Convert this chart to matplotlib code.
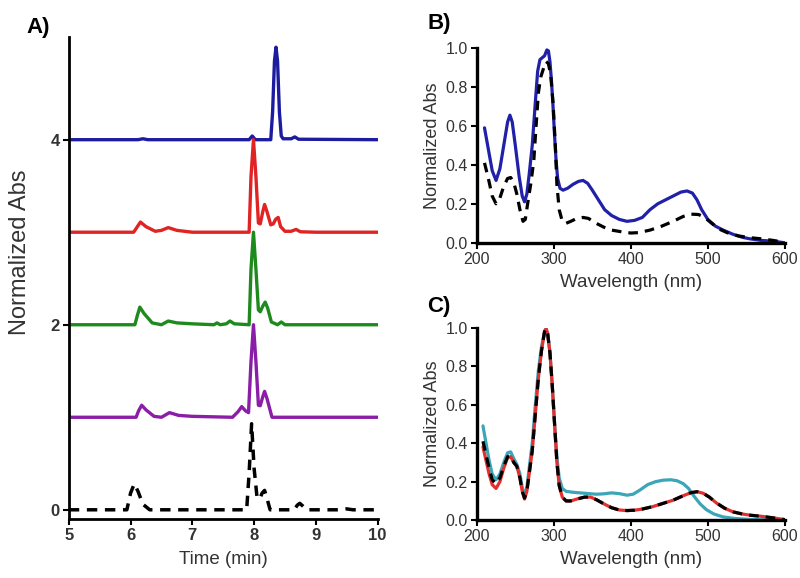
import matplotlib
matplotlib.use("Agg")
import matplotlib.pyplot as plt

plt.rcParams['font.family'] = ['Liberation Sans', 'DejaVu Sans']

# ---------------- Panel A: chromatograms (relative to baseline) ----------------
trace_offsets = [4, 3, 2, 1, 0]
trace_colors = ['#1c1ca0', '#e02424', '#1e8a1e', '#8a1ea6', 'black']

blue_t = [5.0, 6.12, 6.20, 6.28, 7.92, 7.97, 8.02, 8.10, 8.27, 8.30, 8.33, 8.355, 8.38, 8.41, 8.44, 8.47, 8.60, 8.66, 8.72, 10.0]
blue_y = [0.0, 0.0, 0.01, 0.0, 0.0, 0.04, 0.0, 0.0, 0.0, 0.3, 0.85, 1.0, 0.85, 0.3, 0.04, 0.01, 0.01, 0.03, 0.005, 0.0]

red_t = [5.0, 6.05, 6.10, 6.16, 6.25, 6.40, 6.50, 6.61, 6.75, 7.00, 7.92, 7.95, 7.99, 8.03, 8.07, 8.10, 8.14, 8.17, 8.21, 8.27, 8.31, 8.35, 8.39, 8.43, 8.50, 8.60, 8.68, 8.75, 9.00, 10.0]
red_y = [0.0, 0.0, 0.05, 0.11, 0.06, 0.01, 0.02, 0.05, 0.02, 0.0, 0.0, 0.6, 1.0, 0.6, 0.1, 0.09, 0.22, 0.30, 0.22, 0.08, 0.09, 0.14, 0.16, 0.06, 0.01, 0.01, 0.03, 0.005, 0.0, 0.0]

green_t = [5.0, 6.07, 6.11, 6.15, 6.22, 6.35, 6.50, 6.61, 6.75, 7.00, 7.35, 7.40, 7.45, 7.55, 7.61, 7.68, 7.92, 7.95, 7.99, 8.03, 8.07, 8.10, 8.14, 8.18, 8.22, 8.28, 8.38, 8.44, 8.50, 9.50, 10.0]
green_y = [0.0, 0.0, 0.1, 0.19, 0.12, 0.02, 0.0, 0.04, 0.02, 0.01, 0.0, 0.02, 0.0, 0.01, 0.04, 0.01, 0.0, 0.6, 1.0, 0.6, 0.16, 0.14, 0.2, 0.245, 0.18, 0.03, 0.0, 0.03, 0.0, 0.0, 0.0]

purple_t = [5.0, 6.09, 6.13, 6.18, 6.25, 6.38, 6.50, 6.63, 6.78, 7.00, 7.65, 7.74, 7.80, 7.86, 7.91, 7.95, 7.99, 8.03, 8.07, 8.10, 8.14, 8.17, 8.21, 8.29, 9.50, 10.0]
purple_y = [0.0, 0.0, 0.07, 0.13, 0.08, 0.01, 0.0, 0.05, 0.02, 0.01, 0.0, 0.06, 0.115, 0.07, 0.05, 0.6, 1.0, 0.6, 0.13, 0.125, 0.22, 0.28, 0.2, 0.0, 0.0, 0.0]

black_t = [5.0, 5.94, 6.00, 6.06, 6.12, 6.20, 6.31, 7.88, 7.92, 7.96, 8.00, 8.05, 8.10, 8.13, 8.17, 8.21, 8.26, 8.65, 8.70, 8.74, 8.79, 8.85, 9.40, 9.50, 9.60, 10.0]
black_y = [0.0, 0.0, 0.18, 0.28, 0.2, 0.06, 0.0, 0.0, 0.4, 0.93, 0.45, 0.12, 0.13, 0.18, 0.21, 0.12, 0.0, 0.0, 0.05, 0.07, 0.04, 0.0, 0.0, 0.01, 0.0, 0.0]

traces_t = [blue_t, red_t, green_t, purple_t, black_t]
traces_y = [blue_y, red_y, green_y, purple_y, black_y]

a_xticks = [5, 6, 7, 8, 9, 10]
a_yticks = [0, 2, 4]

# ---------------- Panel B ----------------
b_blue_wl = [210, 215, 220, 225, 230, 235, 240, 243, 246, 250, 255, 259, 262, 265, 268, 272, 276, 279, 282, 285, 288, 291, 293, 295, 297, 299, 301, 303, 305, 308, 312, 318, 325, 332, 338, 344, 350, 358, 366, 375, 385, 395, 405, 415, 425, 435, 445, 455, 465, 473, 480, 486, 492, 500, 510, 520, 533, 545, 555, 570, 585, 600]
b_blue_ab = [0.59, 0.48, 0.37, 0.32, 0.38, 0.5, 0.62, 0.655, 0.62, 0.5, 0.34, 0.24, 0.21, 0.25, 0.35, 0.5, 0.72, 0.88, 0.94, 0.95, 0.96, 0.99, 0.985, 0.93, 0.83, 0.7, 0.55, 0.42, 0.33, 0.28, 0.27, 0.28, 0.3, 0.315, 0.32, 0.305, 0.27, 0.22, 0.17, 0.14, 0.12, 0.11, 0.115, 0.13, 0.17, 0.2, 0.22, 0.24, 0.26, 0.266, 0.255, 0.22, 0.17, 0.12, 0.085, 0.065, 0.043, 0.028, 0.02, 0.012, 0.008, 0.0]
b_dash_wl = [210, 215, 220, 225, 230, 235, 240, 244, 248, 252, 256, 260, 263, 266, 270, 274, 277, 280, 283, 287, 290, 293, 296, 299, 302, 304, 307, 311, 316, 322, 330, 338, 345, 355, 365, 375, 390, 400, 410, 425, 440, 455, 468, 478, 488, 496, 505, 515, 525, 540, 555, 570, 585, 598]
b_dash_ab = [0.41, 0.33, 0.24, 0.2, 0.23, 0.29, 0.33, 0.335, 0.31, 0.25, 0.17, 0.11, 0.12, 0.2, 0.3, 0.42, 0.6, 0.77, 0.85, 0.9, 0.93, 0.92, 0.86, 0.72, 0.5, 0.3, 0.17, 0.11, 0.1, 0.11, 0.125, 0.13, 0.125, 0.1, 0.08, 0.065, 0.055, 0.05, 0.052, 0.065, 0.085, 0.11, 0.135, 0.147, 0.145, 0.13, 0.1, 0.07, 0.052, 0.035, 0.026, 0.02, 0.012, 0.003]

# ---------------- Panel C ----------------
c_cyan_wl = [208, 212, 216, 220, 225, 230, 235, 240, 244, 248, 252, 256, 259, 262, 265, 268, 272, 276, 280, 284, 288, 290, 292, 295, 298, 301, 304, 307, 311, 316, 325, 340, 355, 365, 375, 385, 395, 403, 412, 422, 432, 442, 452, 460, 468, 475, 482, 490, 498, 508, 520, 535, 555, 600]
c_cyan_ab = [0.49, 0.4, 0.31, 0.24, 0.21, 0.24, 0.3, 0.35, 0.355, 0.32, 0.29, 0.24, 0.17, 0.13, 0.17, 0.27, 0.4, 0.6, 0.78, 0.9, 0.98, 0.995, 0.97, 0.87, 0.7, 0.5, 0.33, 0.22, 0.165, 0.15, 0.145, 0.14, 0.135, 0.137, 0.142, 0.138, 0.13, 0.135, 0.157, 0.185, 0.2, 0.208, 0.21, 0.205, 0.19, 0.165, 0.125, 0.085, 0.055, 0.032, 0.017, 0.009, 0.004, 0.0]
c_wl = [208, 212, 216, 220, 225, 230, 235, 240, 244, 248, 252, 256, 259, 262, 265, 268, 272, 276, 280, 284, 288, 290, 292, 295, 298, 301, 304, 307, 311, 316, 322, 330, 340, 348, 356, 365, 375, 385, 395, 405, 415, 428, 440, 455, 468, 478, 486, 494, 502, 511, 522, 533, 545, 555, 570, 585, 600]
c_dash_ab = [0.41, 0.34, 0.27, 0.21, 0.19, 0.22, 0.28, 0.33, 0.335, 0.3, 0.28, 0.22, 0.15, 0.115, 0.15, 0.24, 0.36, 0.55, 0.74, 0.88, 0.98, 0.995, 0.97, 0.87, 0.7, 0.5, 0.3, 0.18, 0.12, 0.1, 0.1, 0.11, 0.12, 0.12, 0.105, 0.085, 0.065, 0.053, 0.05, 0.052, 0.058, 0.07, 0.085, 0.104, 0.127, 0.143, 0.148, 0.14, 0.12, 0.09, 0.062, 0.043, 0.032, 0.026, 0.02, 0.012, 0.003]
c_red_ab = [0.38, 0.31, 0.24, 0.185, 0.165, 0.2, 0.27, 0.325, 0.33, 0.3, 0.28, 0.22, 0.15, 0.11, 0.15, 0.24, 0.36, 0.55, 0.74, 0.88, 0.98, 0.995, 0.97, 0.87, 0.7, 0.5, 0.3, 0.18, 0.12, 0.1, 0.1, 0.11, 0.12, 0.12, 0.105, 0.085, 0.065, 0.053, 0.05, 0.052, 0.058, 0.07, 0.085, 0.104, 0.127, 0.143, 0.148, 0.14, 0.12, 0.09, 0.062, 0.043, 0.032, 0.026, 0.02, 0.012, 0.003]

spec_xticks = [200, 300, 400, 500, 600]
spec_yticks = [0.0, 0.2, 0.4, 0.6, 0.8, 1.0]

TXT = '#333333'
DASH = (0, (3.0, 2.2))
LKW = dict(solid_joinstyle='round', solid_capstyle='round', dash_joinstyle='round')

fig = plt.figure(figsize=(8.0, 5.78), dpi=100)

def style(ax, lw=2.0, size=11.5, weight='normal'):
    for s in ['top', 'right']:
        ax.spines[s].set_visible(False)
    for s in ['left', 'bottom']:
        ax.spines[s].set_linewidth(lw)
        ax.spines[s].set_color('black')
    ax.tick_params(direction='out', length=4, width=1.5, colors='black', labelcolor=TXT, labelsize=size, pad=2.5)
    for lab in ax.get_xticklabels() + ax.get_yticklabels():
        lab.set_fontweight(weight)

# Panel A
axA = fig.add_axes([0.086, 0.102, 0.386, 0.834])
for t, y, off, c in zip(traces_t, traces_y, trace_offsets, trace_colors):
    yy = [v + off for v in y]
    if c == 'black':
        axA.plot(t, yy, color=c, lw=2.5, linestyle=DASH, **LKW)
    else:
        axA.plot(t, yy, color=c, lw=2.4, **LKW)
axA.set_xlim(5, 10)
axA.set_ylim(-0.1, 5.11)
axA.set_xticks(a_xticks)
axA.set_yticks(a_yticks)
style(axA, 2.0, 12, 'bold')
axA.set_xlabel('Time (min)', fontsize=13.5, color=TXT, labelpad=6)
fig.text(20 / 800, 1 - 252 / 578, 'Normalized Abs', fontsize=17, color=TXT,
         rotation=90, ha='center', va='center')
fig.text(0.048, 0.953, 'A)', fontsize=16, fontweight='bold', ha='center', va='center')

# Panel B
axB = fig.add_axes([0.596, 0.580, 0.385, 0.337])
axB.plot(b_blue_wl, b_blue_ab, color='#2020a8', lw=2.3, **LKW)
axB.plot(b_dash_wl, b_dash_ab, color='black', lw=2.3, linestyle=DASH, **LKW)
axB.set_xlim(200, 600)
axB.set_ylim(0, 1.0)
axB.set_xticks(spec_xticks)
axB.set_yticks(spec_yticks)
axB.set_yticklabels([f'{v:.1f}' for v in spec_yticks])
style(axB, 2.4)
axB.set_xlabel('Wavelength (nm)', fontsize=13.5, color=TXT, labelpad=5)
axB.set_ylabel('Normalized Abs', fontsize=13, color=TXT, labelpad=3)
fig.text(0.549, 0.960, 'B)', fontsize=16, fontweight='bold', ha='center', va='center')

# Panel C
axC = fig.add_axes([0.596, 0.100, 0.385, 0.333])
axC.plot(c_cyan_wl, c_cyan_ab, color='#3aa6b8', lw=2.3, **LKW)
axC.plot(c_wl, c_red_ab, color='#e03030', lw=2.3, **LKW)
axC.plot(c_wl, c_dash_ab, color='black', lw=2.3, linestyle=DASH, **LKW)
axC.set_xlim(200, 600)
axC.set_ylim(0, 1.0)
axC.set_xticks(spec_xticks)
axC.set_yticks(spec_yticks)
axC.set_yticklabels([f'{v:.1f}' for v in spec_yticks])
style(axC, 2.4)
axC.set_xlabel('Wavelength (nm)', fontsize=13.5, color=TXT, labelpad=5)
axC.set_ylabel('Normalized Abs', fontsize=13, color=TXT, labelpad=3)
fig.text(0.549, 0.470, 'C)', fontsize=16, fontweight='bold', ha='center', va='center')

fig.savefig('out.png', dpi=100)
